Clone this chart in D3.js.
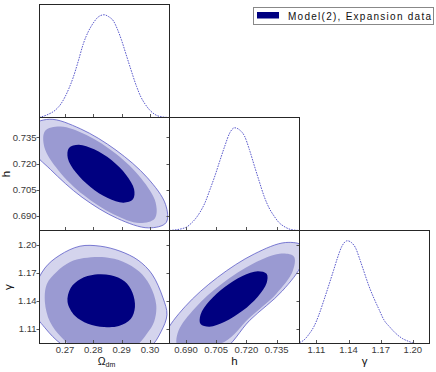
<!DOCTYPE html>
<html><head><meta charset="utf-8">
<script src="https://cdn.jsdelivr.net/npm/d3@7"></script>
<style>body{margin:0;background:#fff}svg{display:block}text{font-family:"Liberation Sans",Arial,sans-serif}</style>
</head><body><svg id="c" width="436" height="372"></svg>
<script>
// ---- tick values / labels ----
const omegaTicks = [0.27, 0.28, 0.29, 0.30];
const omegaTickLabels = ["0.27", "0.28", "0.29", "0.30"];
const hTicks = [0.690, 0.705, 0.720, 0.735];
const hTickLabels = ["0.690", "0.705", "0.720", "0.735"];
const gammaTicks = [1.11, 1.14, 1.17, 1.20];
const gammaTickLabels = ["1.11", "1.14", "1.17", "1.20"];
const legendLabel = "Model(2), Expansion data";

// ---- 1D marginal densities (normalised to peak 1) ----
const omegaGrid = [0.2609,0.2640,0.2665,0.2685,0.2700,0.2715,0.2729,0.2747,0.2765,0.2783,0.2800,0.2818,0.2838,0.2855,0.2871,0.2885,0.2900,0.2915,0.2930,0.2953,0.2968,0.2983,0.3000,0.3024,0.3045,0.3069];
const omegaDens = [0.00,0.03,0.07,0.13,0.20,0.29,0.39,0.55,0.72,0.84,0.92,0.98,1.00,0.98,0.94,0.86,0.75,0.62,0.49,0.30,0.20,0.13,0.07,0.02,0.005,0.00];
const hGrid = [0.6818,0.6900,0.6920,0.6945,0.6970,0.6994,0.7019,0.7043,0.7068,0.7092,0.7117,0.7141,0.7165,0.7190,0.7214,0.7239,0.7263,0.7288,0.7312,0.7337,0.7360,0.7386,0.7420,0.7463];
const hDens = [0.00,0.03,0.06,0.11,0.18,0.27,0.40,0.53,0.68,0.82,0.95,1.00,0.98,0.92,0.79,0.63,0.48,0.33,0.22,0.14,0.08,0.04,0.01,0.00];
const gammaGrid = [1.0943,1.0980,1.1031,1.1080,1.1124,1.1170,1.1217,1.1260,1.1296,1.1340,1.1389,1.1430,1.1466,1.1505,1.1544,1.1590,1.1637,1.1685,1.1730,1.1785,1.1839,1.1900,1.1963,1.2025,1.2155];
const gammaDens = [0.01,0.03,0.09,0.17,0.28,0.42,0.57,0.71,0.83,0.95,1.00,0.98,0.93,0.82,0.70,0.56,0.44,0.33,0.23,0.16,0.10,0.05,0.02,0.00,0.00];

// ---- 2D contours (outer, middle, inner) in data units ----
const omegaH_outer = [[0.3057,0.6863],[0.2995,0.6833],[0.2886,0.6886],[0.2760,0.7008],[0.2649,0.7166],[0.2584,0.7280],[0.2576,0.7407],[0.2645,0.7453],[0.2754,0.7399],[0.2880,0.7277],[0.2991,0.7119],[0.3055,0.6967]];
const omegaH_mid = [[0.3017,0.6887],[0.2963,0.6861],[0.2871,0.6911],[0.2766,0.7020],[0.2677,0.7161],[0.2627,0.7295],[0.2630,0.7387],[0.2684,0.7412],[0.2776,0.7363],[0.2881,0.7254],[0.2970,0.7113],[0.3020,0.6978]];
const omegaH_inner = [[0.2940,0.6996],[0.2907,0.6977],[0.2851,0.7003],[0.2790,0.7066],[0.2738,0.7150],[0.2710,0.7231],[0.2714,0.7289],[0.2748,0.7308],[0.2803,0.7282],[0.2865,0.7219],[0.2916,0.7135],[0.2944,0.7054]];

const omegaG_outer = [[0.2591,1.1517],[0.2629,1.1752],[0.2682,1.1891],[0.2753,1.1987],[0.2824,1.1987],[0.2894,1.1934],[0.2958,1.1837],[0.3007,1.1688],[0.3046,1.1432],[0.3060,1.1251],[0.3039,1.1069],[0.3000,1.0899],[0.2912,1.0770],[0.2788,1.0770],[0.2689,1.0931],[0.2629,1.1112],[0.2587,1.1304]];
const omegaG_mid = [[0.2629,1.1389],[0.2636,1.1581],[0.2671,1.1713],[0.2718,1.1816],[0.2767,1.1859],[0.2841,1.1869],[0.2905,1.1821],[0.2962,1.1715],[0.3000,1.1565],[0.3022,1.1360],[0.3015,1.1180],[0.2989,1.1048],[0.2950,1.0915],[0.2859,1.0813],[0.2753,1.0856],[0.2689,1.1005],[0.2647,1.1176]];
const omegaG_inner = [[0.2947,1.1335],[0.2932,1.1205],[0.2890,1.1130],[0.2838,1.1120],[0.2781,1.1155],[0.2735,1.1240],[0.2709,1.1389],[0.2720,1.1539],[0.2755,1.1635],[0.2806,1.1683],[0.2862,1.1675],[0.2910,1.1610],[0.2938,1.1490]];

const hG_outer = [[0.7480,1.1987],[0.7394,1.2026],[0.7239,1.1904],[0.7056,1.1652],[0.6895,1.1338],[0.6799,1.1047],[0.6792,1.0856],[0.6878,1.0816],[0.7078,1.0867],[0.7216,1.1191],[0.7377,1.1505],[0.7474,1.1796]];
const hG_mid = [[0.7435,1.1875],[0.7364,1.1906],[0.7234,1.1801],[0.7081,1.1588],[0.6945,1.1325],[0.6863,1.1082],[0.6857,1.0925],[0.6928,1.0894],[0.7092,1.0963],[0.7211,1.1212],[0.7347,1.1475],[0.7429,1.1718]];
const hG_inner = [[0.7300,1.1691],[0.7256,1.1719],[0.7180,1.1667],[0.7092,1.1549],[0.7016,1.1398],[0.6972,1.1252],[0.6972,1.1151],[0.7016,1.1124],[0.7092,1.1176],[0.7180,1.1293],[0.7256,1.1445],[0.7300,1.1591]];

// ---- layout ----
const X0 = 39.5, Y0 = 4.5, W = 130, H = 113;
const C_INNER = "#000080", C_MID = "#9a9ad2", C_OUTER = "#d4d4ed", C_LINE = "#5c5cc8";

const vars = [
  {domain: [0.2610, 0.3069], ticks: omegaTicks, labels: omegaTickLabels, grid: omegaGrid, dens: omegaDens},
  {domain: [0.6818, 0.7463], ticks: hTicks, labels: hTickLabels, grid: hGrid, dens: hDens},
  {domain: [1.0943, 1.2155], ticks: gammaTicks, labels: gammaTickLabels, grid: gammaGrid, dens: gammaDens}
];
const xs = i => d3.scaleLinear().domain(vars[i].domain).range([X0 + i*W, X0 + (i+1)*W]);
const ys = j => d3.scaleLinear().domain(vars[j].domain).range([Y0 + (j+1)*H, Y0 + j*H]);
const ds = j => d3.scaleLinear().domain([0, 1.1]).range([Y0 + (j+1)*H, Y0 + j*H]);

const contours = [
  {row: 1, col: 0, sets: [omegaH_outer, omegaH_mid, omegaH_inner]},
  {row: 2, col: 0, sets: [omegaG_outer, omegaG_mid, omegaG_inner]},
  {row: 2, col: 1, sets: [hG_outer, hG_mid, hG_inner]}
];

const svg = d3.select("#c");
const defs = svg.append("defs");
function clipFor(r, c) {
  const id = "clip" + r + c;
  defs.append("clipPath").attr("id", id).append("rect")
    .attr("x", X0 + c*W).attr("y", Y0 + r*H).attr("width", W).attr("height", H);
  return "url(#" + id + ")";
}

// 2D panels
contours.forEach(p => {
  const x = xs(p.col), y = ys(p.row);
  const g = svg.append("g").attr("clip-path", clipFor(p.row, p.col));
  const line = d3.line().x(d => x(d[0])).y(d => y(d[1])).curve(d3.curveCatmullRomClosed.alpha(0.5));
  const fills = [C_OUTER, C_MID, C_INNER];
  p.sets.forEach((s, k) => {
    g.append("path").attr("d", line(s)).attr("fill", fills[k])
      .attr("stroke", k === 0 ? C_LINE : "none").attr("stroke-width", 0.8);
  });
});

// 1D panels
[0, 1, 2].forEach(i => {
  const x = xs(i), y = ds(i);
  const g = svg.append("g").attr("clip-path", clipFor(i, i));
  const pts = vars[i].grid.map((v, k) => [v, vars[i].dens[k]]);
  g.append("path")
    .attr("d", d3.line().x(d => x(d[0])).y(d => y(d[1])).curve(d3.curveMonotoneX)(pts))
    .attr("fill", "none").attr("stroke", "#5a5acb").attr("stroke-width", 1)
    .attr("stroke-dasharray", "1.6,1.1");
});

// frames & ticks
for (let r = 0; r < 3; r++) {
  for (let c = 0; c <= r; c++) {
    const x = xs(c);
    const top = Y0 + r*H, bot = Y0 + (r+1)*H;
    const g = svg.append("g");
    vars[c].ticks.forEach(t => {
      const px = Math.round(x(t)) + 0.5;
      g.append("line").attr("x1", px).attr("x2", px).attr("y1", bot).attr("y2", bot - 3.5)
        .attr("stroke", "#555").attr("stroke-width", 1);
    });
    if (r > 0) {
      const y = ys(r);
      vars[r].ticks.forEach(t => {
        const py = Math.round(y(t)) + 0.5;
        g.append("line").attr("x1", X0 + c*W).attr("x2", X0 + c*W - 3).attr("y1", py).attr("y2", py)
          .attr("stroke", "#555").attr("stroke-width", 1);
      });
    }
    g.append("rect").attr("x", X0 + c*W).attr("y", top).attr("width", W).attr("height", H)
      .attr("fill", "none").attr("stroke", "#262626").attr("stroke-width", 1);
  }
}

// tick labels: bottom row
for (let c = 0; c < 3; c++) {
  const x = xs(c);
  vars[c].ticks.forEach((t, k) => {
    svg.append("text").attr("x", x(t)).attr("y", Y0 + 3*H + 9)
      .attr("text-anchor", "middle").attr("font-size", 9.5).attr("fill", "#3a3a3a")
      .text(vars[c].labels[k]);
  });
}
// tick labels: left column
for (let r = 1; r < 3; r++) {
  const y = ys(r);
  vars[r].ticks.forEach((t, k) => {
    svg.append("text").attr("x", X0 - 3).attr("y", y(t)).attr("dy", "0.35em")
      .attr("text-anchor", "end").attr("font-size", 9.5).attr("fill", "#3a3a3a")
      .text(vars[r].labels[k]);
  });
}

// axis labels
const LBL = 10.5;
const xl = svg.append("text").attr("x", X0 + W/2 + 2).attr("y", 364.5).attr("text-anchor", "middle")
  .attr("font-size", LBL).attr("fill", "#111");
xl.append("tspan").text("Ω");
xl.append("tspan").attr("font-size", 7).attr("dy", 2.5).text("dm");
svg.append("text").attr("x", X0 + 1.5*W).attr("y", 364.5).attr("text-anchor", "middle")
  .attr("font-size", LBL + 1).attr("fill", "#111").text("h");
svg.append("text").attr("x", X0 + 2.5*W).attr("y", 364.5).attr("text-anchor", "middle")
  .attr("font-size", LBL + 1).attr("fill", "#111").text("γ");
svg.append("text").attr("transform", `translate(10,${Y0 + 1.5*H}) rotate(-90)`).attr("text-anchor", "middle")
  .attr("font-size", 11.5).attr("fill", "#111").text("h");
svg.append("text").attr("transform", `translate(12,${Y0 + 2.5*H}) rotate(-90)`).attr("text-anchor", "middle")
  .attr("font-size", 11.5).attr("fill", "#111").text("γ");

// legend
const lg = svg.append("g");
lg.append("rect").attr("x", 253.5).attr("y", 7.5).attr("width", 180).attr("height", 17)
  .attr("fill", "#fff").attr("stroke", "#888").attr("stroke-width", 1);
lg.append("rect").attr("x", 257).attr("y", 12).attr("width", 22).attr("height", 6.5).attr("fill", C_INNER);
lg.append("text").attr("x", 288).attr("y", 19.5).attr("font-size", 10).attr("fill", "#111")
  .attr("textLength", 143).attr("lengthAdjust", "spacing").text(legendLabel);
</script>
</body></html>
